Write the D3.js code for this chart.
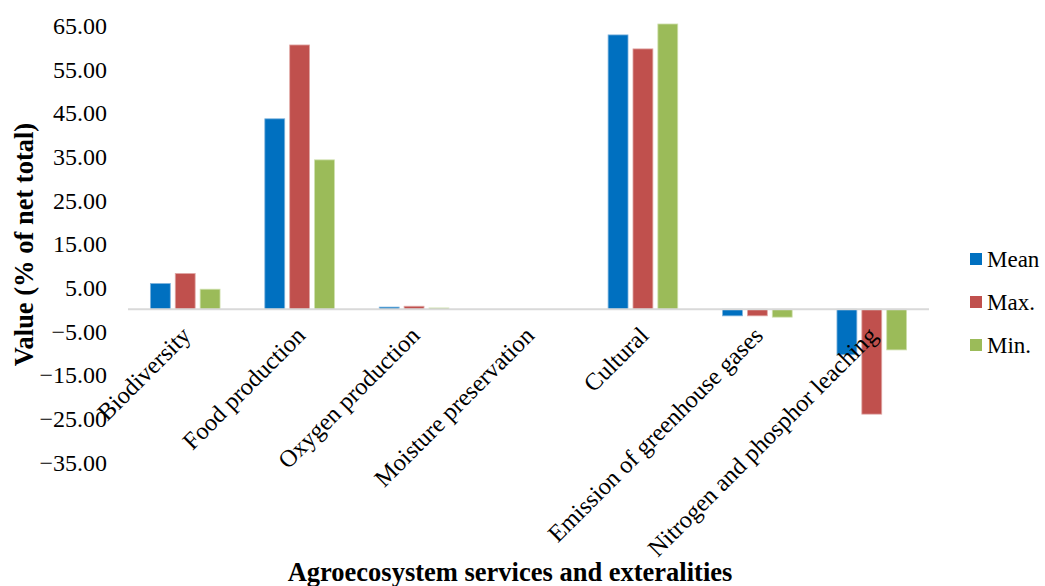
<!DOCTYPE html>
<html>
<head>
<meta charset="utf-8">
<script src="https://cdn.jsdelivr.net/npm/d3@7"></script>
<style>
  html, body { margin: 0; padding: 0; background: #fff; }
  svg { display: block; }
  svg text { font-family: "Liberation Serif", "Times New Roman", serif; fill: #000; }
</style>
</head>
<body>
<svg id="chart" width="1045" height="586"></svg>
<script>
// Share of net total value per agroecosystem service / externality
const categories = [
  "Biodiversity",
  "Food production",
  "Oxygen production",
  "Moisture preservation",
  "Cultural",
  "Emission of greenhouse gases",
  "Nitrogen and phosphor leaching"
];
const seriesNames = ["Mean", "Max.", "Min."];
const meanValues = [5.9, 43.6, 0.5, 0.0, 62.8, -1.5, -10.4];
const maxValues  = [8.2, 60.5, 0.7, 0.0, 59.6, -1.5, -24.0];
const minValues  = [4.6, 34.2, 0.3, 0.0, 65.3, -1.8, -9.3];
const yTicks = [-35, -25, -15, -5, 5, 15, 25, 35, 45, 55, 65];
const colors = ["#0070C0", "#C0504D", "#9BBB59"];
const edgeColors = ["#7fb3dc", "#e0a8a6", "#cfe0ae"];

const series = [meanValues, maxValues, minValues];

const svg = d3.select("#chart");
const plot = { left: 128, right: 929, top: 25.3, bottom: 462.2 };

const x = d3.scaleBand()
  .domain(categories)
  .range([plot.left, plot.right])
  .paddingInner(0)
  .paddingOuter(0);

const y = d3.scaleLinear()
  .domain([-35, 65])
  .range([plot.bottom, plot.top]);

const xs = d3.scaleBand()
  .domain(d3.range(seriesNames.length))
  .range([0, x.bandwidth()])
  .paddingInner(0.2)
  .paddingOuter(0.9);

// Bars
categories.forEach((cat, ci) => {
  const g = svg.append("g").attr("transform", `translate(${x(cat)},0)`);
  series.forEach((vals, si) => {
    const v = vals[ci];
    g.append("rect")
      .attr("x", xs(si))
      .attr("width", xs.bandwidth())
      .attr("y", Math.min(y(v), y(0)))
      .attr("height", Math.abs(y(v) - y(0)))
      .attr("fill", colors[si])
      .attr("stroke", edgeColors[si])
      .attr("stroke-width", 0.8);
  });
});

// Zero baseline
svg.append("line")
  .attr("x1", plot.left).attr("x2", plot.right)
  .attr("y1", y(0)).attr("y2", y(0))
  .attr("stroke", "#d9d9d9")
  .attr("stroke-width", 2);

// Y axis (labels only)
const yAxis = d3.axisLeft(y)
  .tickValues(yTicks)
  .tickFormat(d3.format(".2f"))
  .tickSize(0)
  .tickPadding(0);
const yg = svg.append("g")
  .attr("transform", "translate(107,0)")
  .call(yAxis);
yg.attr("font-family", null).attr("font-size", null);
yg.select(".domain").remove();
yg.selectAll("text")
  .attr("font-size", 24)
  .attr("fill", "#000")
  .attr("dy", "0.34em");

// Category labels, rotated
svg.append("g").selectAll("text")
  .data(categories)
  .join("text")
  .attr("transform", d => `translate(${x(d) + x.bandwidth() / 2 + 7},337) rotate(-45)`)
  .attr("text-anchor", "end")
  .attr("font-size", 24.3)
  .text(d => d);

// Axis titles
svg.append("text")
  .attr("x", 510)
  .attr("y", 581)
  .attr("text-anchor", "middle")
  .attr("font-size", 26.5)
  .attr("font-weight", "bold")
  .text("Agroecosystem services and exteralities");

svg.append("text")
  .attr("transform", "translate(33,244.5) rotate(-90)")
  .attr("text-anchor", "middle")
  .attr("font-size", 26.5)
  .attr("font-weight", "bold")
  .text("Value (% of net total)");

// Legend
const legend = svg.append("g").attr("transform", "translate(970,0)");
const legendY = [259, 302, 345];
seriesNames.forEach((name, i) => {
  legend.append("rect")
    .attr("x", 0).attr("y", legendY[i] - 6)
    .attr("width", 12).attr("height", 12)
    .attr("fill", colors[i]);
  legend.append("text")
    .attr("x", 17).attr("y", legendY[i])
    .attr("dy", "0.34em")
    .attr("font-size", 23)
    .text(name);
});
</script>
</body>
</html>
